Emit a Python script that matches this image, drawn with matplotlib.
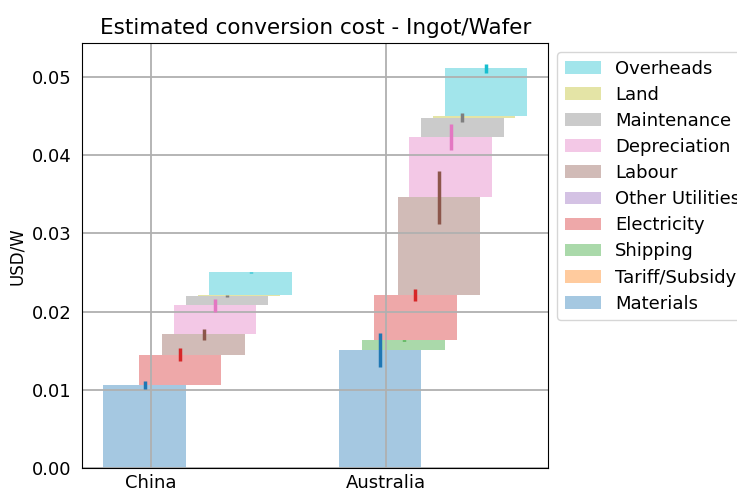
import matplotlib
matplotlib.use('Agg')
import matplotlib.pyplot as plt
import numpy as np


countries = ['China', 'Australia']
components = ['Materials', 'Tariff/Subsidy', 'Shipping', 'Electricity', 'Other Utilities',
              'Labour', 'Depreciation', 'Maintenance', 'Land', 'Overheads']
colors = ['tab:blue', 'tab:orange', 'tab:green', 'tab:red', 'tab:purple',
          'tab:brown', 'tab:pink', 'tab:gray', 'tab:olive', 'tab:cyan']

# cost per component (USD/W)
china = [0.0106, 0.0, 0.0, 0.0039, 0.0, 0.0026, 0.0037, 0.0012, 0.0001, 0.0029]
australia = [0.0151, 0.0, 0.0012, 0.0058, 0.0, 0.0125, 0.0077, 0.0025, 0.0002, 0.0061]
# uncertainty on each component
china_err = [0.00055, 0.0, 0.0, 0.0008, 0.0, 0.0007, 0.0008, 0.0001, 0.0, 0.0001]
australia_err = [0.0022, 0.0, 0.0001, 0.0008, 0.0, 0.0034, 0.0017, 0.0006, 0.0, 0.0006]

values = np.array([china, australia])
errors = np.array([china_err, australia_err])

x = np.arange(len(countries))
width = 0.35
step = 0.05

fig = plt.figure(figsize=(7.37, 4.9), dpi=100)
ax = fig.add_axes([82.3/737, 22/490, 466/737, 424.7/490])

bottom = np.zeros(len(countries))
for i, (name, c) in enumerate(zip(components, colors)):
    left = x - 0.2 + step*i
    ax.bar(left, values[:, i], width, bottom=bottom, align='edge',
           color=c, alpha=0.4, label=name)
    top = bottom + values[:, i]
    ax.errorbar(left + width/2, top, yerr=errors[:, i], fmt='none',
                ecolor=c, elinewidth=2.5, capsize=0)
    bottom = top

ax.set_title('Estimated conversion cost - Ingot/Wafer', fontsize=15.5, pad=7)
ax.set_ylabel('USD/W', fontsize=12)
ax.set_xticks(x)
ax.set_xticklabels(countries)
ax.tick_params(labelsize=13, length=0, pad=8)
ax.tick_params(axis='x', pad=4)
ax.grid(True, color='#b0b0b0', linewidth=1.3)

handles, labels = ax.get_legend_handles_labels()
ax.legend(handles[::-1], labels[::-1], loc='upper left', bbox_to_anchor=(1.0, 1.0),
          fontsize=13, labelspacing=0.45)

fig.savefig('out.png', dpi=100)
